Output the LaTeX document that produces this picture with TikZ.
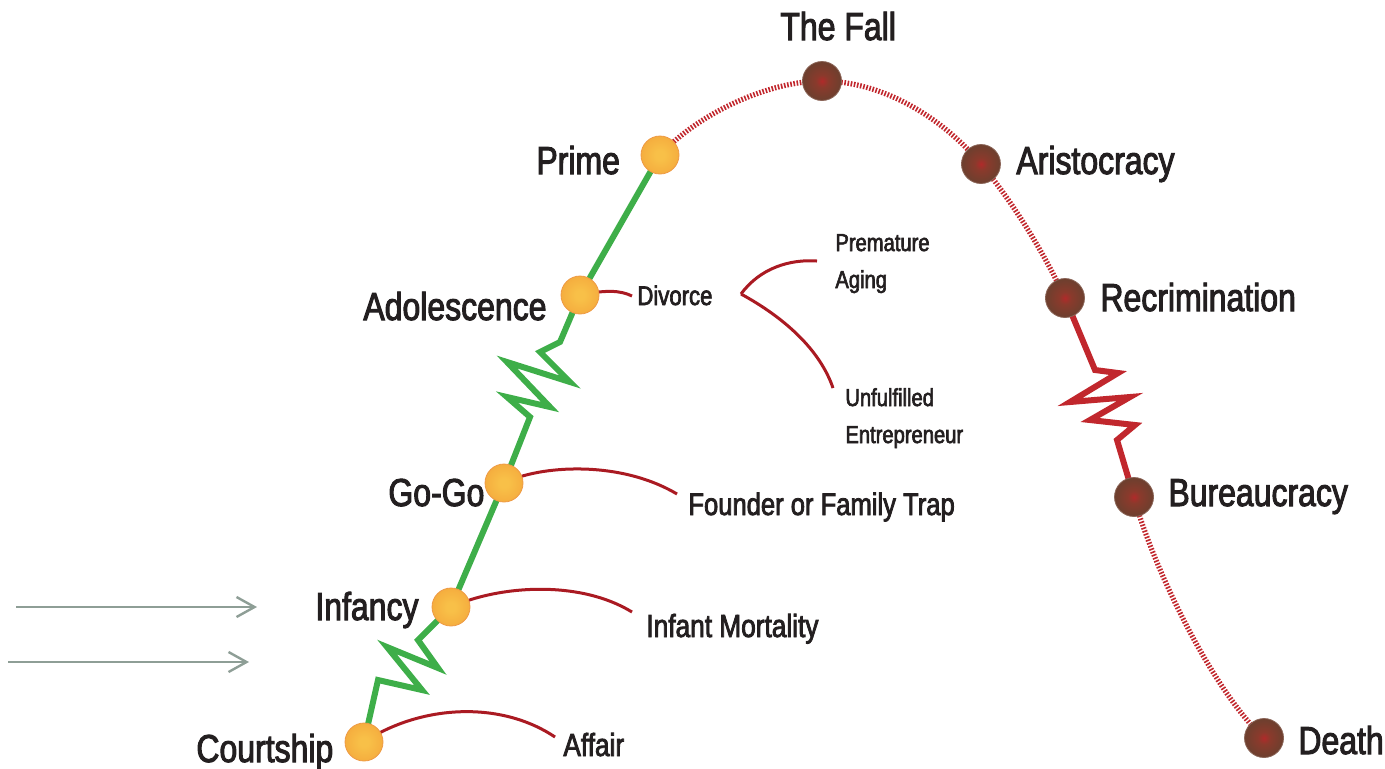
\documentclass[tikz,border=0pt]{standalone}
\usepackage{fontspec}
\setmainfont{Liberation Sans}[FakeStretch=0.82,FakeBold=2.5]
\usetikzlibrary{arrows.meta}
\definecolor{txt}{HTML}{231F20}
\definecolor{grn}{HTML}{3EAE49}
\definecolor{rd}{HTML}{C1272D}
\definecolor{drd}{HTML}{AA1A22}
\definecolor{arr}{HTML}{8E9E96}
\definecolor{orin}{HTML}{F8C048}
\definecolor{orout}{HTML}{F19532}
\definecolor{orline}{HTML}{EE9A45}
\definecolor{brin}{HTML}{B02A2A}
\definecolor{brmid}{HTML}{8A3A2C}
\definecolor{brout}{HTML}{6E3F2E}
\pgfdeclareradialshading{orball}{\pgfpoint{0bp}{0bp}}{color(0bp)=(orin); color(6bp)=(orin); color(50bp)=(orout)}
\pgfdeclareradialshading{brball}{\pgfpoint{0bp}{0bp}}{color(0bp)=(brin); color(8bp)=(brmid); color(24bp)=(brout); color(50bp)=(brout)}
\tikzset{
  orangeball/.style={circle, minimum size=19pt, inner sep=0pt, shade, shading=orball, draw=orline, line width=0.4pt},
  brownball/.style={circle, minimum size=19.5pt, inner sep=0pt, shade, shading=brball, draw=brout!80!white, line width=0.4pt},
  biglabel/.style={text=txt, inner sep=0pt, anchor=base west, font=\fontsize{19.5}{23}\selectfont},
  midlabel/.style={text=txt, inner sep=0pt, anchor=base west, font=\fontsize{16}{19}\selectfont},
  smalllabel/.style={text=txt, inner sep=0pt, anchor=base west, font=\fontsize{12.3}{18.5}\selectfont, align=left},
  greenline/.style={draw=grn, line width=3pt, line join=miter},
  redzig/.style={draw=rd, line width=3pt, line join=miter},
  reddots/.style={draw=rd, line width=2.6pt, dash pattern=on 0.8pt off 0.8pt},
  branch/.style={draw=drd, line width=1.5pt},
  greyarrow/.style={draw=arr, line width=1.2pt, -{Straight Barb[length=9pt,width=10pt,line width=1.2pt]}}
}
\begin{document}
\begin{tikzpicture}[x=0.5pt, y=-0.5pt]
\useasboundingbox (0,0) rectangle (1385,768);

% ball positions
\coordinate (pcourt) at (364,742);
\coordinate (pinf) at (451,607);
\coordinate (pgogo) at (504,483);
\coordinate (padol) at (580,295);
\coordinate (pprime) at (660,155);
\coordinate (pfall) at (822,81);
\coordinate (parist) at (981,164);
\coordinate (precr) at (1065,298);
\coordinate (pbur) at (1134,497);
\coordinate (pdeath) at (1264,738);

% free ends
\coordinate (affairend) at (555,737);
\coordinate (infantend) at (632,612);
\coordinate (founderend) at (677,494);
\coordinate (divorceend) at (632,296);
\coordinate (fork) at (741,294);
\coordinate (agingend) at (817,261);
\coordinate (unfulend) at (833,388);
\coordinate (a1s) at (16,607);
\coordinate (a1e) at (257,607);
\coordinate (a2s) at (8,662);
\coordinate (a2e) at (249,662);

% green growth line
\draw[greenline] (pcourt) -- (378,680) -- (422,690) -- (387,647) -- (438,668) -- (418,640) -- (pinf);
\draw[greenline] (pinf) -- (pgogo);
\draw[greenline] (pgogo) -- (530,417) -- (507,397) -- (550,407) -- (507,362) -- (570,382) -- (540,352) -- (560,342) -- (padol);
\draw[greenline] (padol) -- (pprime);

% red decline line
\draw[reddots] (pprime) .. controls (700,112) and (770,81) .. (pfall);
\draw[reddots] (pfall) .. controls (880,81) and (940,115) .. (parist);
\draw[reddots] (parist) .. controls (1015,205) and (1045,255) .. (precr);
\draw[redzig] (precr) -- (1095,370) -- (1118,373) -- (1070,402) -- (1130,397) -- (1090,420) -- (1135,425) -- (1117,440) -- (pbur);
\draw[reddots] (pbur) .. controls (1152,565) and (1212,690) .. (pdeath);

% branches (traps)
\draw[branch] (pcourt) .. controls (420,705) and (500,700) .. (affairend);
\draw[branch] (pinf) .. controls (500,585) and (580,580) .. (infantend);
\draw[branch] (pgogo) .. controls (540,465) and (620,460) .. (founderend);
\draw[branch] (padol) .. controls (605,290) and (620,290) .. (divorceend);
\draw[branch] (fork) .. controls (760,268) and (790,259) .. (agingend);
\draw[branch] (fork) .. controls (785,318) and (820,350) .. (unfulend);

% grey arrows
\draw[greyarrow] (a1s) -- (a1e);
\draw[greyarrow] (a2s) -- (a2e);

% balls
\node[orangeball] (court) at (pcourt) {};
\node[orangeball] (inf) at (pinf) {};
\node[orangeball] (gogo) at (pgogo) {};
\node[orangeball] (adol) at (padol) {};
\node[orangeball] (prime) at (pprime) {};
\node[brownball] (fall) at (pfall) {};
\node[brownball] (arist) at (parist) {};
\node[brownball] (recr) at (precr) {};
\node[brownball] (bur) at (pbur) {};
\node[brownball] (death) at (pdeath) {};

% stage labels
\node[biglabel] (lfall) at (780,40) {The Fall};
\node[biglabel] (lprime) at (536,174) {Prime};
\node[biglabel] (ladol) at (363,320) {Adolescence};
\node[biglabel] (lgogo) at (388,506) {Go-Go};
\node[biglabel] (linf) at (315,620) {Infancy};
\node[biglabel] (lcourt) at (196,762) {Courtship};
\node[biglabel] (larist) at (1016,174) {Aristocracy};
\node[biglabel] (lrecr) at (1100,311) {Recrimination};
\node[biglabel] (lbur) at (1168,506) {Bureaucracy};
\node[biglabel] (ldeath) at (1298,754) {Death};

% trap labels
\node[midlabel] (laffair) at (563,756) {Affair};
\node[midlabel] (linfant) at (646,637) {Infant Mortality};
\node[midlabel, font=\fontsize{15.6}{19}\selectfont] (lfounder) at (688,515) {Founder or Family Trap};
\node[text=txt, inner sep=0pt, anchor=base west, font=\fontsize{13.5}{16}\selectfont] (ldivorce) at (637,305) {Divorce};
\node[smalllabel] (laging) at (835,288) {Premature\\Aging};
\node[smalllabel] (lunful) at (845,443) {Unfulfilled\\Entrepreneur};
\end{tikzpicture}
\end{document}
